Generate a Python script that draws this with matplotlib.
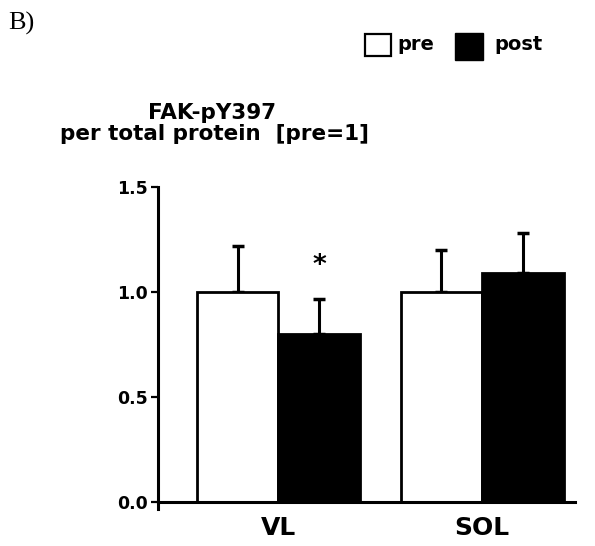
import matplotlib
matplotlib.use("Agg")
import matplotlib.pyplot as plt
from matplotlib.patches import Rectangle
import numpy as np

categories = ["VL", "SOL"]
series = ["pre", "post"]
pre_vals = [1.00, 1.00]
pre_err = [0.22, 0.20]
post_vals = [0.80, 1.09]
post_err = [0.165, 0.19]
yticks = [0.0, 0.5, 1.0, 1.5]
ytick_labels = ["0.0", "0.5", "1.0", "1.5"]

FONT = "DejaVu Sans"

fig = plt.figure(figsize=(5.95, 5.46), dpi=100)
W, H = 595, 546
ax_left, ax_right, ax_top, ax_bot = 158, 575, 187, 509
ax = fig.add_axes([ax_left / W, 1 - ax_bot / H, (ax_right - ax_left) / W, (ax_bot - ax_top) / H])

x = np.arange(len(categories))
w = 0.40
ax.bar(x - w / 2, pre_vals, w, color="white", edgecolor="black", linewidth=2.0, zorder=2)
ax.bar(x + w / 2, post_vals, w, color="black", edgecolor="black", linewidth=2.0, zorder=2)
ax.errorbar(x - w / 2, pre_vals, yerr=[np.zeros(2), pre_err], fmt="none", ecolor="black",
            elinewidth=2.2, capsize=4.5, capthick=2.5, zorder=1)
ax.errorbar(x + w / 2, post_vals, yerr=[np.zeros(2), post_err], fmt="none", ecolor="black",
            elinewidth=2.2, capsize=4.5, capthick=2.5, zorder=1)

# significance star
ax.text(x[0] + w / 2, post_vals[0] + post_err[0] + 0.16, "*", ha="center", va="center",
        fontsize=19, fontweight="bold", family=FONT)

ax.set_ylim(-0.035, 1.5)
ax.set_xlim(-0.59, 1.455)
ax.spines["bottom"].set_position(("data", 0))
for s in ["top", "right"]:
    ax.spines[s].set_visible(False)
ax.spines["left"].set_linewidth(2.2)
ax.spines["bottom"].set_linewidth(2.2)
ax.spines["left"].set_bounds(-0.035, 1.5)

ax.set_yticks(yticks)
ax.set_yticklabels(ytick_labels, fontsize=12.5, fontweight="bold", family=FONT)
ax.tick_params(axis="y", direction="out", length=5, width=1.6, pad=2)
ax.set_xticks(x)
ax.set_xticklabels(categories, fontsize=18, fontweight="bold", family=FONT)
ax.tick_params(axis="x", length=0, pad=10)

# y label (above axis)
fig.text(212 / W, 1 - 113 / H, "FAK-pY397", ha="center", va="center",
         fontsize=15.5, fontweight="bold", family=FONT)
fig.text(215 / W, 1 - 134 / H, "per total protein  [pre=1]", ha="center", va="center",
         fontsize=15.5, fontweight="bold", family=FONT)

# panel letter
fig.text(8 / W, 1 - 23 / H, "B)", ha="left", va="center", fontsize=19, family="Liberation Serif")

# legend
fig.add_artist(Rectangle((365 / W, 1 - 56 / H), 26 / W, 22 / H, transform=fig.transFigure,
                         facecolor="white", edgecolor="black", linewidth=1.6))
fig.text(397 / W, 1 - 44 / H, series[0], ha="left", va="center", fontsize=14,
         fontweight="bold", family=FONT)
fig.add_artist(Rectangle((455 / W, 1 - 60 / H), 28 / W, 27 / H, transform=fig.transFigure,
                         facecolor="black", edgecolor="black", linewidth=1.0))
fig.text(494 / W, 1 - 44 / H, series[1], ha="left", va="center", fontsize=14,
         fontweight="bold", family=FONT)

fig.savefig("out.png", dpi=100)
